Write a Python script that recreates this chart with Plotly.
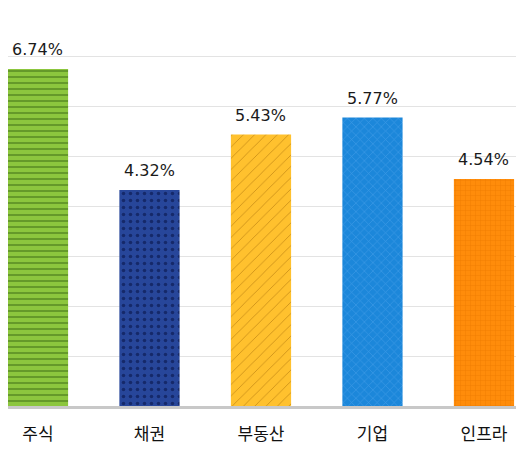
import plotly.graph_objects as go

categories = ['주식', '채권', '부동산', '기업', '인프라']
returns = [6.74, 4.32, 5.43, 5.77, 4.54]
labels = ['6.74%', '4.32%', '5.43%', '5.77%', '4.54%']

bar_colors = ['#8cc63e', '#27469a', '#ffc12e', '#1c87da', '#ff8c0a']
pattern_colors = ['#4a7a1c', '#15296a', '#c98d16', '#3f9be6', '#ec7a00']
pattern_shapes = ['-', '.', '/', 'x', '+']
pattern_sizes = [6, 7, 8, 6, 5]
pattern_solid = [0.2, 0.2, 0.1, 0.2, 0.15]

fig = go.Figure()
# one trace per bar so every bar keeps its own pattern colour
for i, cat in enumerate(categories):
    fig.add_trace(go.Bar(
        x=[cat],
        y=[returns[i]],
        width=0.54,
        marker=dict(
            color=bar_colors[i],
            line=dict(width=0),
            pattern=dict(
                shape=pattern_shapes[i],
                fgcolor=pattern_colors[i],
                fgopacity=1,
                size=pattern_sizes[i],
                solidity=pattern_solid[i],
                fillmode='overlay',
            ),
        ),
    ))

# value labels above each bar
for cat, val, lab in zip(categories, returns, labels):
    fig.add_annotation(
        x=cat, y=val, text=lab,
        showarrow=False, yanchor='bottom', yshift=8,
        font=dict(family='DejaVu Sans', size=16, color='#1a1a1a'),
    )

# the page body has an 8px margin, so the figure is sized to fill the rest
fig.update_layout(
    width=516,
    height=448,
    margin=dict(l=0, r=0, t=0, b=50),
    barmode='overlay',
    plot_bgcolor='white',
    paper_bgcolor='white',
    showlegend=False,
    font=dict(family='Noto Sans CJK KR', size=17, color='#111111'),
)
fig.update_xaxes(
    categoryorder='array',
    categoryarray=categories,
    range=[-0.269, 4.359],
    showline=True,
    linecolor='#c8c8c8',
    linewidth=3,
    ticks='outside',
    ticklen=11,
    tickcolor='rgba(0,0,0,0)',
    tickfont=dict(size=17, color='#111111'),
)
fig.update_yaxes(
    range=[0, 7.96],
    dtick=1,
    showticklabels=False,
    gridcolor='#e3e3e3',
    gridwidth=1,
    zeroline=False,
)

fig.write_html('out.html')
